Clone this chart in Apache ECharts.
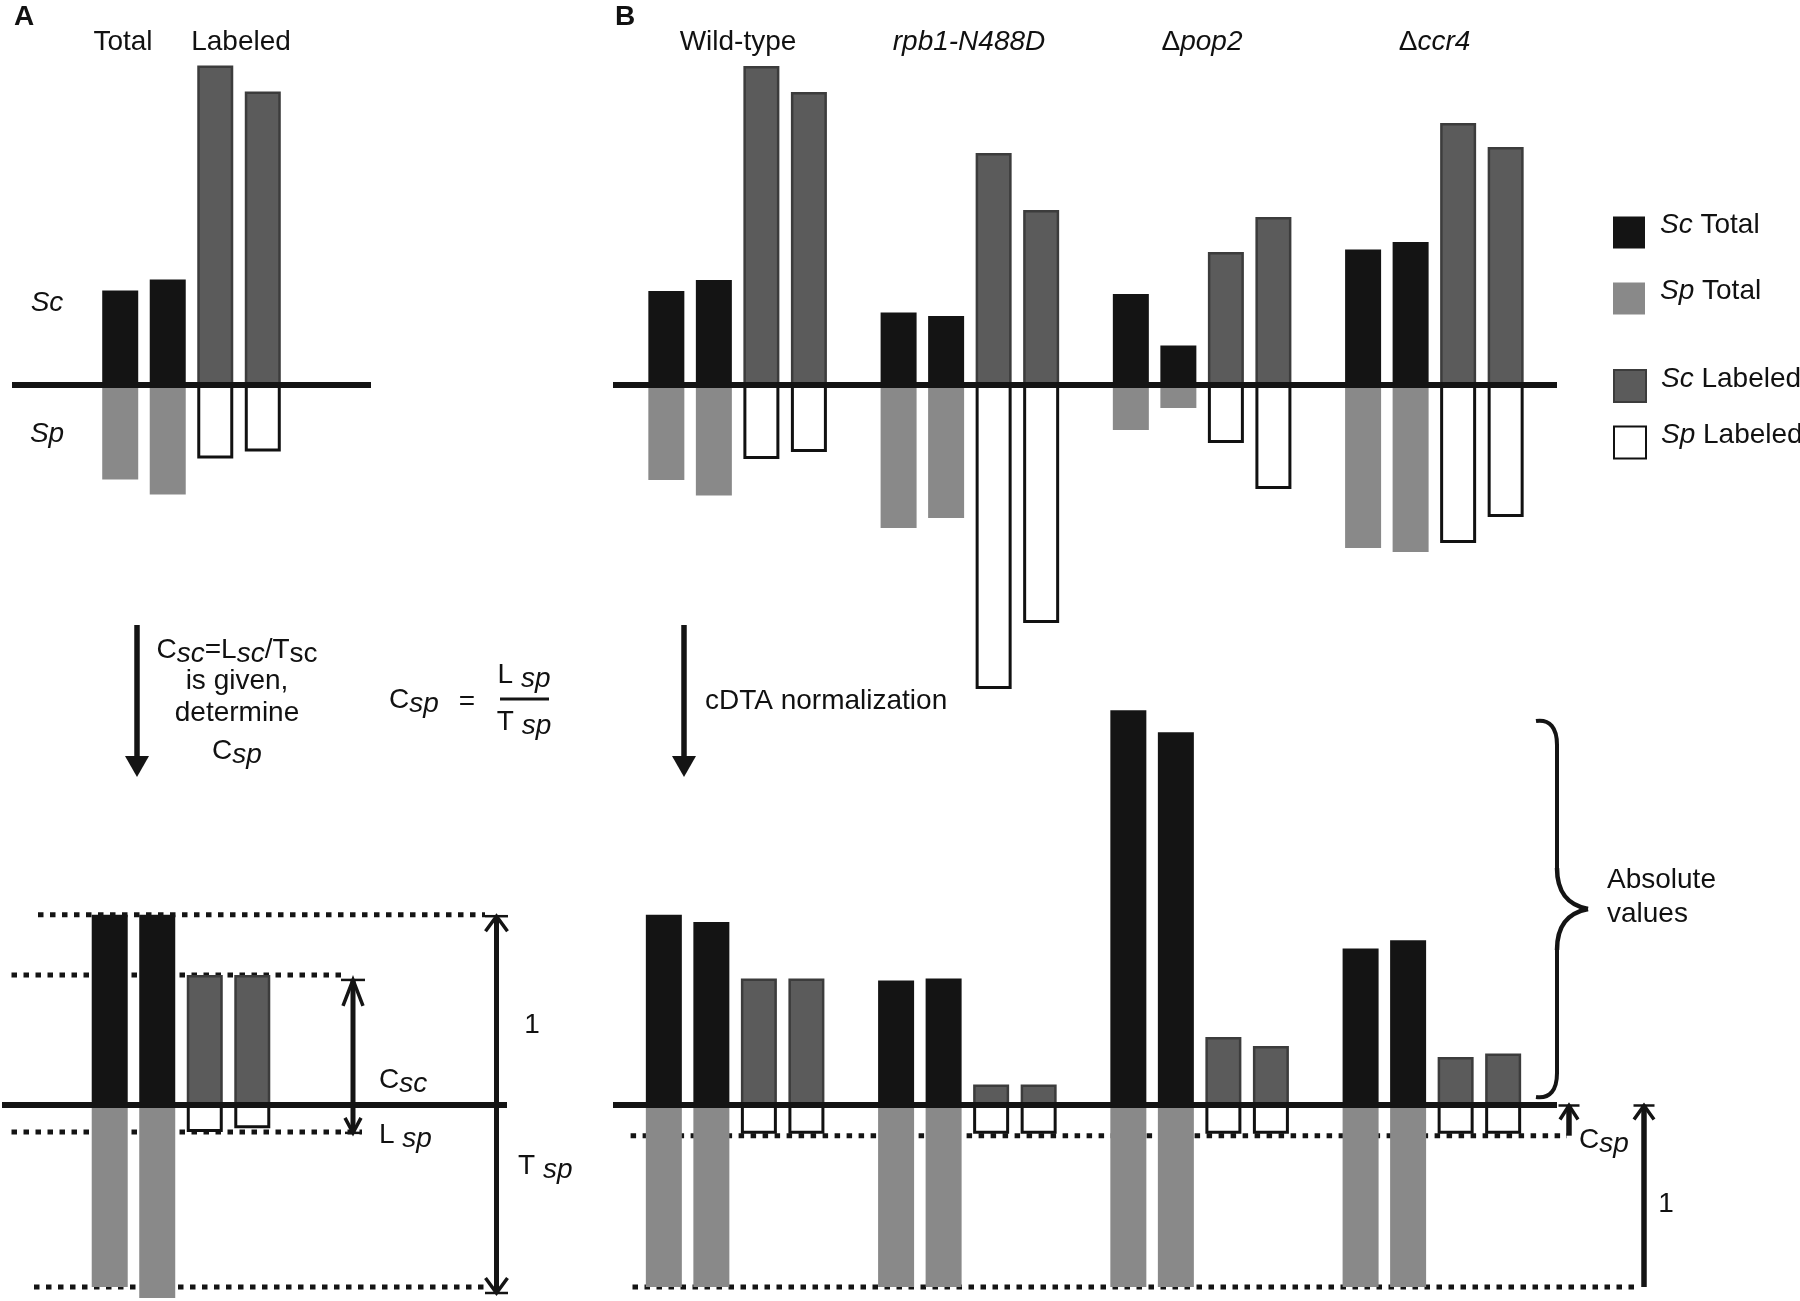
<!DOCTYPE html>
<html>
<head>
<meta charset="utf-8">
<script src="https://cdn.jsdelivr.net/npm/echarts@6/dist/echarts.min.js"></script>
<style>
html,body{margin:0;padding:0;background:#ffffff;}
#c{width:1800px;height:1301px;}
</style>
</head>
<body>
<div id="c"></div>
<script>
// ------------------------- DATA -------------------------
// Panel A: schematic of one sample, two replicates (arbitrary units)
const panelACategory = ['Wild-type'];
const aTopScTotal   = [0.94, 1.05];
const aTopScLabeled = [3.19, 2.93];
const aTopSpTotal   = [-0.95, -1.10];
const aTopSpLabeled = [-0.74, -0.67];

// Panel A after normalisation (Sp total = 1)
const aBotScTotal   = [1.04, 1.04];
const aBotScLabeled = [0.71, 0.71];
const aBotSpTotal   = [-1.00, -1.06];
const aBotSpLabeled = [-0.15, -0.13];

// Panel B: four strains, replicate 1 and replicate 2
const strains = ['Wild-type', 'rpb1-N488D', 'Δpop2', 'Δccr4'];
const bTopScTotalRep1   = [0.94, 0.725, 0.91, 1.355];
const bTopScTotalRep2   = [1.05, 0.69, 0.395, 1.43];
const bTopScLabeledRep1 = [3.19, 2.32, 1.33, 2.62];
const bTopScLabeledRep2 = [2.93, 1.75, 1.68, 2.38];
const bTopSpTotalRep1   = [-0.95, -1.43, -0.45, -1.63];
const bTopSpTotalRep2   = [-1.105, -1.33, -0.23, -1.67];
const bTopSpLabeledRep1 = [-0.74, -3.04, -0.58, -1.58];
const bTopSpLabeledRep2 = [-0.67, -2.38, -1.04, -1.32];

// Panel B after cDTA normalisation (Sp total = 1)
const bBotScTotalRep1   = [1.04, 0.68, 2.16, 0.855];
const bBotScTotalRep2   = [1.00, 0.69, 2.04, 0.90];
const bBotScLabeledRep1 = [0.69, 0.11, 0.37, 0.26];
const bBotScLabeledRep2 = [0.69, 0.11, 0.32, 0.28];
const bBotSpTotalRep1   = [-1, -1, -1, -1];
const bBotSpTotalRep2   = [-1, -1, -1, -1];
const bBotSpLabeledRep1 = [-0.16, -0.16, -0.16, -0.16];
const bBotSpLabeledRep2 = [-0.16, -0.16, -0.16, -0.16];

const legendTotals  = ['Sc Total', 'Sp Total'];
const legendLabeled = ['Sc Labeled', 'Sp Labeled'];

// ------------------------- LAYOUT & STYLE -------------------------
const FONT = '"Liberation Sans", Arial, Helvetica, sans-serif';
const INK = '#141414';
const TXT = '#111111';
const STY = {
  scTotal: { color: '#141414' },
  spTotal: { color: '#898989' },
  scLab:   { color: '#5b5b5b', borderColor: '#3c3c3c', borderWidth: 2.5 },
  spLab:   { color: '#ffffff', borderColor: '#111111', borderWidth: 3 }
};
// bar grids: A top, B top, A bottom, B bottom
const barGrids = [
  { left: 12,    top: 34.5,  width: 359, height: 700 },
  { left: 621.5, top: 35,    width: 929, height: 700 },
  { left: 65,    top: 666.5, width: 232, height: 657 },
  { left: 619,   top: 666.5, width: 929, height: 657 }
];
const yRanges = [[-3.5, 3.5], [-3.5, 3.5], [-1.2, 2.4], [-1.2, 2.4]];
const categoriesPerGrid = [panelACategory, strains, panelACategory, strains];
// baseline (zero line) grids: [left, right, y]
const baseLines = [[12, 371, 384.5], [613, 1557, 385], [2, 507, 1104.5], [613, 1557, 1104.5]];

function seriesFor(g, s) {
  const mk = (name, data, stack, style) => ({
    type: 'bar', name: name, data: data, stack: 'g' + g + stack,
    xAxisIndex: g, yAxisIndex: g, barWidth: 36, barGap: '32%',
    itemStyle: style, silent: true, emphasis: { disabled: true }, z: 2
  });
  return [
    mk('Sc Total',   s.scT1, 'T1', STY.scTotal),
    mk('Sc Total',   s.scT2, 'T2', STY.scTotal),
    mk('Sc Labeled', s.scL1, 'L1', STY.scLab),
    mk('Sc Labeled', s.scL2, 'L2', STY.scLab),
    mk('Sp Total',   s.spT1, 'T1', STY.spTotal),
    mk('Sp Total',   s.spT2, 'T2', STY.spTotal),
    mk('Sp Labeled', s.spL1, 'L1', STY.spLab),
    mk('Sp Labeled', s.spL2, 'L2', STY.spLab)
  ];
}

const series = [].concat(
  seriesFor(0, { scT1: [aTopScTotal[0]], scT2: [aTopScTotal[1]], scL1: [aTopScLabeled[0]], scL2: [aTopScLabeled[1]],
                 spT1: [aTopSpTotal[0]], spT2: [aTopSpTotal[1]], spL1: [aTopSpLabeled[0]], spL2: [aTopSpLabeled[1]] }),
  seriesFor(1, { scT1: bTopScTotalRep1, scT2: bTopScTotalRep2, scL1: bTopScLabeledRep1, scL2: bTopScLabeledRep2,
                 spT1: bTopSpTotalRep1, spT2: bTopSpTotalRep2, spL1: bTopSpLabeledRep1, spL2: bTopSpLabeledRep2 }),
  seriesFor(2, { scT1: [aBotScTotal[0]], scT2: [aBotScTotal[1]], scL1: [aBotScLabeled[0]], scL2: [aBotScLabeled[1]],
                 spT1: [aBotSpTotal[0]], spT2: [aBotSpTotal[1]], spL1: [aBotSpLabeled[0]], spL2: [aBotSpLabeled[1]] }),
  seriesFor(3, { scT1: bBotScTotalRep1, scT2: bBotScTotalRep2, scL1: bBotScLabeledRep1, scL2: bBotScLabeledRep2,
                 spT1: bBotSpTotalRep1, spT2: bBotSpTotalRep2, spL1: bBotSpLabeledRep1, spL2: bBotSpLabeledRep2 })
);

const grid = [], xAxis = [], yAxis = [];
barGrids.forEach((b, g) => {
  grid.push(Object.assign({ containLabel: false, outerBoundsMode: 'none' }, b));
  xAxis.push({ type: 'category', gridIndex: g, data: categoriesPerGrid[g], show: false });
  yAxis.push({ type: 'value', gridIndex: g, min: yRanges[g][0], max: yRanges[g][1], show: false });
});
baseLines.forEach((l, i) => {
  const g = barGrids.length + i;
  grid.push({ left: l[0], width: l[1] - l[0], top: l[2] - 10, height: 10, containLabel: false, outerBoundsMode: 'none' });
  xAxis.push({ type: 'category', gridIndex: g, data: [''], z: 5,
    axisLine: { show: true, onZero: false, lineStyle: { color: INK, width: 6, cap: 'butt' } },
    axisTick: { show: false }, axisLabel: { show: false }, splitLine: { show: false } });
  yAxis.push({ type: 'value', gridIndex: g, min: 0, max: 1, show: false });
});

const legendFmt = name => { const p = name.split(' '); return '{i|' + p[0] + '} ' + p[1]; };
const legendText = {
  fontFamily: FONT, fontSize: 28, color: TXT, padding: [0, 0, 14, 10],
  rich: { i: { fontFamily: FONT, fontSize: 28, fontStyle: 'italic', color: TXT } }
};

const option = {
  animation: false,
  backgroundColor: '#ffffff',
  grid: grid, xAxis: xAxis, yAxis: yAxis, series: series,
  legend: [
    { data: legendTotals, orient: 'vertical', left: 1608, top: 206.6, itemWidth: 32, itemHeight: 32,
      itemGap: 29, icon: 'rect', selectedMode: false, formatter: legendFmt, textStyle: legendText },
    { data: legendLabeled, orient: 'vertical', left: 1608, top: 360, itemWidth: 32, itemHeight: 32,
      itemGap: 18.4, icon: 'rect', selectedMode: false, formatter: legendFmt, textStyle: legendText }
  ]
};

const chart = echarts.init(document.getElementById('c'), null, { renderer: 'canvas', width: 1800, height: 1301 });
chart.setOption(option);

// ------------------------- ANNOTATIONS -------------------------
const Y = (g, v) => chart.convertToPixel({ yAxisIndex: g }, v);
const G = [];
function ln(x1, y1, x2, y2, w, z) {
  return { type: 'line', z: z == null ? 10 : z, silent: true, shape: { x1: x1, y1: y1, x2: x2, y2: y2 }, style: { stroke: INK, lineWidth: w } };
}
function bz(p0, c1, c2, p1, w) {
  return { type: 'bezierCurve', z: 10, silent: true,
    shape: { x1: p0[0], y1: p0[1], cpx1: c1[0], cpy1: c1[1], cpx2: c2[0], cpy2: c2[1], x2: p1[0], y2: p1[1] },
    style: { stroke: INK, lineWidth: w, fill: null } };
}
function dash(x1, x2, y) {
  return { type: 'line', z: 1, silent: true, shape: { x1: x1, y1: y, x2: x2, y2: y },
    style: { stroke: INK, lineWidth: 5, lineDash: [5.5, 6.5] } };
}
function pl(points, w) {
  return { type: 'polyline', z: 10, silent: true, shape: { points: points }, style: { stroke: INK, lineWidth: w, fill: null, lineJoin: 'miter' } };
}
function downArrow(x, y1, tip) {
  G.push(ln(x, y1, x, tip - 18, 5.5));
  G.push({ type: 'polygon', z: 10, silent: true, shape: { points: [[x - 12, tip - 21], [x + 12, tip - 21], [x, tip]] }, style: { fill: INK } });
}
// end marker: cap bar + open chevron; dir = -1 means pointing up (apex at y, arms below)
function endMark(x, y, dir, capHalf, chevHalf, chevLen) {
  G.push(ln(x - capHalf, y, x + capHalf, y, 2.5));
  G.push(pl([[x - chevHalf, y - dir * chevLen], [x, y], [x + chevHalf, y - dir * chevLen]], 3.5));
}
const RICH = {
  n: { fontFamily: FONT, fontSize: 28, fill: TXT, verticalAlign: 'top' },
  s: { fontFamily: FONT, fontSize: 28, fontStyle: 'italic', fill: TXT, verticalAlign: 'top', padding: [4, 0, 0, 0] },
  u: { fontFamily: FONT, fontSize: 28, fill: TXT, verticalAlign: 'top', padding: [4, 0, 0, 0] },
  d: { fontFamily: FONT, fontSize: 28, fill: TXT },
  i: { fontFamily: FONT, fontSize: 28, fontStyle: 'italic', fill: TXT }
};
function txt(text, x, y, extra) {
  return { type: 'text', z: 10, silent: true,
    style: Object.assign({ text: text, x: x, y: y, fill: TXT, fontFamily: FONT, fontSize: 28,
      align: 'center', verticalAlign: 'middle', rich: RICH }, extra || {}) };
}
// subscript text: y = visual centre of capitals
function subTxt(text, x, yc, align) {
  return txt(text, x, yc - 14, { align: align || 'center', verticalAlign: 'top' });
}

// panel letters and headers
G.push(txt('A', 24, 17.5, { fontWeight: 'bold' }));
G.push(txt('B', 625, 17, { fontWeight: 'bold' }));
G.push(txt('Total', 123, 42));
G.push(txt('Labeled', 241, 42));
G.push(txt('Wild-type', 738, 42));
G.push(txt('rpb1-N488D', 969, 42, { fontStyle: 'italic' }));
G.push(txt('{d|Δ}{i|pop2}', 1202, 42));
G.push(txt('{d|Δ}{i|ccr4}', 1434.5, 42));
G.push(txt('Sc', 47, 303, { fontStyle: 'italic' }));
G.push(txt('Sp', 47, 434, { fontStyle: 'italic' }));

// panel A explanation
downArrow(137, 625, 777);
G.push(subTxt('{n|C}{s|sc}{n|=L}{s|sc}{n|/T}{u|sc}', 237, 650));
G.push(txt('is given,', 237, 681));
G.push(txt('determine', 237, 713));
G.push(subTxt('{n|C}{s|sp}', 237, 751));
G.push(subTxt('{n|C}{s|sp}', 389, 700, 'left'));
G.push(txt('=', 467, 702));
G.push(ln(500, 699, 549, 699, 3));
G.push(subTxt('{n|L }{s|sp}', 524, 675));
G.push(subTxt('{n|T }{s|sp}', 524, 722));

// panel B arrow
downArrow(684, 625, 777);
G.push(txt('cDTA normalization', 705, 701, { align: 'left' }));

// panel A bottom: dashed guides and arrows
const yAsc = Y(2, aBotScTotal[0]);
const yAscL = Y(2, aBotScLabeled[0]);
const yAspL = Y(2, aBotSpLabeled[0]);
const yAspT = Y(2, aBotSpTotal[0]);
G.push(dash(38, 485, yAsc));
G.push(dash(11.5, 341, yAscL));
G.push(dash(11.5, 362, yAspL));
G.push(dash(34, 485, yAspT));
// C_sc double arrow
const cTop = yAscL + 5, cBot = yAspL + 1;
G.push(ln(353, cTop, 353, cBot, 5));
endMark(353, cTop, -1, 12, 10, 26);
endMark(353, cBot, 1, 8, 8, 15);
// 1 / T_sp long arrow
const lTop = yAsc + 1.5, lBot = yAspT + 6;
G.push(ln(496.5, lTop, 496.5, lBot, 5));
endMark(496.5, lTop, -1, 11.5, 11, 15);
endMark(496.5, lBot, 1, 11.5, 11, 15);
G.push(txt('1', 532, 1025));
G.push(subTxt('{n|C}{s|sc}', 379, 1080, 'left'));
G.push(subTxt('{n|L }{s|sp}', 379, 1135, 'left'));
G.push(subTxt('{n|T }{s|sp}', 518, 1166, 'left'));

// panel B bottom
const yB0 = Y(3, 0);
const yBspL = Y(3, bBotSpLabeledRep1[0]);
const yBspT = Y(3, bBotSpTotalRep1[0]);
G.push(dash(630.6, 1567, yBspL + 2));
G.push(dash(632.5, 1636, yBspT));
G.push(ln(1569, yB0 + 1, 1569, yBspL + 2, 5.5));
endMark(1569, yB0 + 1, -1, 10.5, 9, 14);
G.push(ln(1644, yB0 + 1, 1644, yBspT, 5.5));
endMark(1644, yB0 + 1, -1, 10.5, 10, 14);
G.push(subTxt('{n|C}{s|sp}', 1579, 1140, 'left'));
G.push(txt('1', 1666, 1204));
// curly brace "Absolute values"
G.push(bz([1536, 721], [1550, 719], [1557, 728], [1557, 745], 4));
G.push(ln(1557, 744, 1557, 869, 4));
G.push(bz([1557, 868], [1557, 893], [1568, 905], [1588, 909], 4.5));
G.push(bz([1588, 909], [1568, 913], [1557, 925], [1557, 950], 4.5));
G.push(ln(1557, 949, 1557, 1074, 4));
G.push(bz([1557, 1073], [1557, 1090], [1550, 1099], [1536, 1097], 4));
G.push(txt('Absolute', 1607, 880, { align: 'left' }));
G.push(txt('values', 1607, 914, { align: 'left' }));

chart.setOption({ graphic: { elements: G } });
</script>
</body>
</html>
